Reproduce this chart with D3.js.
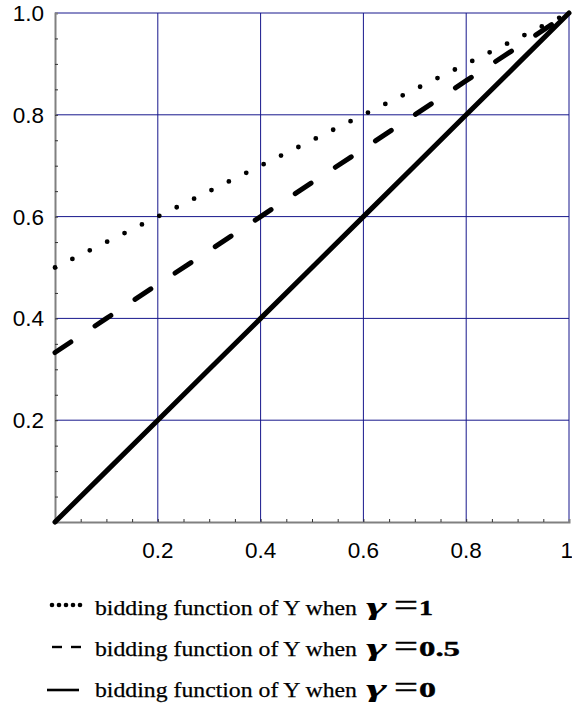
<!DOCTYPE html>
<html>
<head>
<meta charset="utf-8">
<script src="https://cdn.jsdelivr.net/npm/d3@7"></script>
<style>
  body { margin: 0; background: #fff; }
  .tick-label { font-family: "Liberation Sans", Arial, sans-serif; font-size: 22.5px; fill: #000; }
  .legend-text { font-family: "Liberation Serif", "Times New Roman", serif; font-size: 22px; fill: #000; stroke: #000; stroke-width: 0.25; }
  .math { font-family: "Liberation Serif", "Times New Roman", serif; fill: #000; }
</style>
</head>
<body>
<svg width="572" height="707"></svg>
<script>
const xValues = [0, 0.1, 0.2, 0.3, 0.4, 0.5, 0.6, 0.7, 0.8, 0.9, 1.0];
const gamma1 = [0.5, 0.55, 0.6, 0.65, 0.7, 0.75, 0.8, 0.85, 0.9, 0.95, 1.0];
const gamma05 = [0.333, 0.4, 0.467, 0.533, 0.6, 0.667, 0.733, 0.8, 0.867, 0.933, 1.0];
const gamma0 = [0, 0.1, 0.2, 0.3, 0.4, 0.5, 0.6, 0.7, 0.8, 0.9, 1.0];

const xTicks = [0.2, 0.4, 0.6, 0.8, 1.0];
const xTickLabels = ["0.2", "0.4", "0.6", "0.8", "1"];
const yTicks = [0.2, 0.4, 0.6, 0.8, 1.0];
const yTickLabels = ["0.2", "0.4", "0.6", "0.8", "1.0"];
const minorTicks = d3.range(1, 20).map(i => i * 0.05);

const legendLabels = ["bidding function of Y when", "bidding function of Y when", "bidding function of Y when"];
const legendGammas = ["1", "0.5", "0"];

const svg = d3.select("svg");
const x = d3.scaleLinear().domain([0, 1]).range([55, 569]);
const y = d3.scaleLinear().domain([0, 1]).range([522, 13]);

const grid = "#17178c";

// grid
svg.append("g").selectAll("line").data(xTicks).join("line")
    .attr("x1", d => x(d)).attr("x2", d => x(d))
    .attr("y1", y(0)).attr("y2", y(1))
    .attr("stroke", grid).attr("stroke-width", 1);
svg.append("g").selectAll("line").data(yTicks).join("line")
    .attr("x1", x(0)).attr("x2", x(1))
    .attr("y1", d => y(d)).attr("y2", d => y(d))
    .attr("stroke", grid).attr("stroke-width", 1);

// axes
svg.append("g").attr("transform", `translate(0,${y(0)})`)
    .call(d3.axisBottom(x).tickValues(minorTicks).tickSize(-3).tickFormat(""))
    .call(g => g.select(".domain").attr("stroke", "#808080").attr("stroke-width", 2))
    .call(g => g.selectAll(".tick line").attr("stroke", "#333"));
svg.append("g").attr("transform", `translate(${x(0)},0)`)
    .call(d3.axisLeft(y).tickValues(minorTicks).tickSize(-3).tickFormat(""))
    .call(g => g.select(".domain").attr("stroke", "#808080").attr("stroke-width", 2))
    .call(g => g.selectAll(".tick line").attr("stroke", "#333"));

svg.append("g").selectAll("text").data(xTicks).join("text")
    .attr("class", "tick-label")
    .attr("x", d => d === 1 ? 573 : x(d)).attr("y", 558)
    .attr("text-anchor", d => d === 1 ? "end" : "middle")
    .text((d, i) => xTickLabels[i]);
svg.append("g").selectAll("text").data(yTicks).join("text")
    .attr("class", "tick-label")
    .attr("x", 44).attr("y", d => y(d) + 8)
    .attr("text-anchor", "end")
    .text((d, i) => yTickLabels[i]);

// curves
const series = [
  { values: gamma1, dash: "0,19.4", width: 4.8 },
  { values: gamma05, dash: "19,29", width: 5 },
  { values: gamma0, dash: null, width: 5 }
];
const line = d3.line().x((d, i) => x(xValues[i])).y(d => y(d));
svg.append("g").selectAll("path").data(series).join("path")
    .attr("d", d => line(d.values))
    .attr("fill", "none")
    .attr("stroke", "#000")
    .attr("stroke-width", d => d.width)
    .attr("stroke-linecap", "round")
    .attr("stroke-dasharray", d => d.dash);

// legend
const rowY = [615, 656, 697];
const lg = svg.append("g");
// dotted marker
lg.append("g").selectAll("circle").data(d3.range(5)).join("circle")
    .attr("cx", d => 52 + d * 7).attr("cy", rowY[0] - 10).attr("r", 2.3).attr("fill", "#000");
// dashed marker
lg.append("g").selectAll("line").data([52, 71]).join("line")
    .attr("x1", d => d).attr("x2", d => d + 10)
    .attr("y1", rowY[1] - 9).attr("y2", rowY[1] - 9)
    .attr("stroke", "#000").attr("stroke-width", 2.4);
// solid marker
lg.append("line")
    .attr("x1", 47).attr("x2", 79)
    .attr("y1", rowY[2] - 7).attr("y2", rowY[2] - 7)
    .attr("stroke", "#000").attr("stroke-width", 2.6);

lg.append("g").selectAll("text").data(legendLabels).join("text")
    .attr("class", "legend-text")
    .attr("x", 95).attr("y", (d, i) => rowY[i])
    .attr("textLength", 262).attr("lengthAdjust", "spacingAndGlyphs")
    .text(d => d);

const numLen = { "1": 14, "0.5": 41, "0": 17 };
legendGammas.forEach((gv, i) => {
  lg.append("text").attr("class", "math")
    .attr("x", 366).attr("y", rowY[i]).attr("font-size", 25)
    .attr("font-family", "'DejaVu Serif', serif")
    .attr("font-style", "italic").attr("font-weight", "bold")
    .attr("textLength", 21).attr("lengthAdjust", "spacingAndGlyphs")
    .text("γ");
  lg.append("text").attr("class", "math")
    .attr("x", 394).attr("y", rowY[i] + 1).attr("font-size", 32)
    .attr("stroke", "#000").attr("stroke-width", 0.5)
    .attr("textLength", 24).attr("lengthAdjust", "spacingAndGlyphs")
    .text("=");
  lg.append("text").attr("class", "math")
    .attr("x", 419).attr("y", rowY[i]).attr("font-size", 22).attr("font-weight", "bold")
    .attr("stroke", "#000").attr("stroke-width", 0.4)
    .attr("textLength", numLen[gv]).attr("lengthAdjust", "spacingAndGlyphs")
    .text(gv);
});
</script>
</body>
</html>
